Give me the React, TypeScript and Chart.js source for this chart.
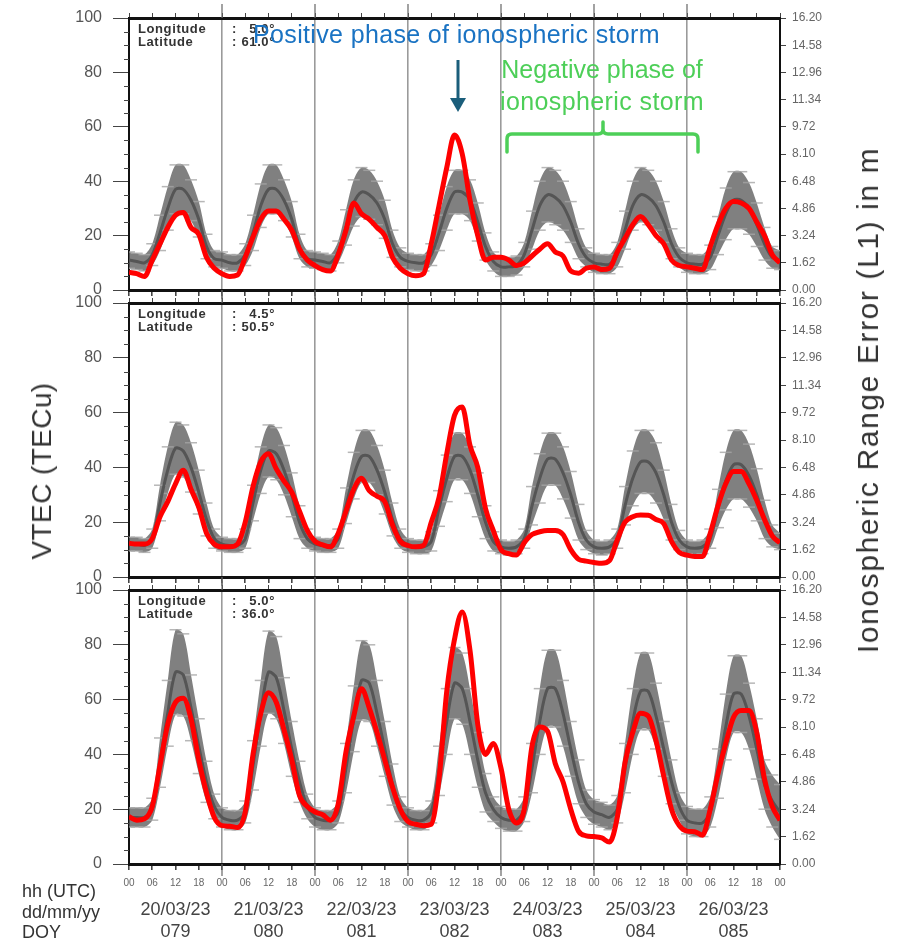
import React, { useEffect, useRef } from 'react';
import { Chart, registerables } from 'chart.js';

Chart.register(...registerables);

const FONT = "'Liberation Sans', Arial, Helvetica, sans-serif";
Chart.defaults.font.family = FONT;

// L1 ionospheric range error in metres per TECu (right-hand axis)
const RANGE_PER_TECU = 0.162;

// sampling times: hours since 20/03/23 00 UTC, every 2 h
const HOURS = Array.from({ length: 85 }, (_, i) => i * 2);

const DATES = ['20/03/23', '21/03/23', '22/03/23', '23/03/23', '24/03/23', '25/03/23', '26/03/23'];
const DOYS = ['079', '080', '081', '082', '083', '084', '085'];

// ---------- Panel 1: Longitude 5.0°, Latitude 61.0° ----------
const TOP_RED = [
  6.5, 6, 5, 11, 17, 23, 27.5, 28.5, 23, 20.5, 12, 8,
  6, 5, 5.5, 12, 19.5, 26, 29, 29, 26, 22, 15, 11,
  9, 7.5, 7, 13, 22, 32, 28, 26, 23, 20, 12, 8,
  6, 5.2, 6, 17, 31, 45, 57, 50, 33, 20, 11, 12,
  12, 11, 9, 10, 12.5, 15, 17, 14, 12.5, 7, 6.2, 8,
  8.5, 7.5, 8, 14, 19, 24, 27, 24, 20, 17, 11, 9,
  8.5, 8, 7.5, 16, 24, 30, 32.5, 32, 30, 25, 20, 13,
  10,
];
const TOP_MEDIAN = [
  11, 10.5, 10, 13, 21, 30, 37, 37, 33, 26, 16, 11.5,
  11, 10, 10, 13, 21, 31, 37, 37, 33, 26, 16, 11.5,
  11, 10.5, 10, 14, 23, 32, 36, 35, 32, 26, 17, 12,
  10.5, 10, 10, 13, 21, 30, 36, 36, 33, 25, 16, 10.5,
  8.5, 8.5, 9, 13, 22, 31, 35, 34, 31, 25, 17, 12,
  10, 9.5, 9.5, 13, 22, 31, 35, 34, 31, 25, 17, 12,
  10, 9.5, 9.5, 12, 20, 28, 33, 33, 30, 24, 17, 12,
  11,
];
const TOP_SIGMA = [
  3, 3, 3, 4, 6.5, 8, 9, 9, 7.5, 6.5, 4.5, 3,
  3, 3, 3, 4, 6.5, 8, 9, 9, 7.5, 6.5, 4.5, 3,
  3, 3, 3, 4, 6.5, 8.5, 9, 9, 8, 7, 5, 3.5,
  3, 3, 3, 4, 6.5, 8, 8, 8, 7.5, 7, 5, 3.5,
  3.5, 3.5, 3.5, 4.5, 7, 9, 10, 10, 9, 7.5, 5.5, 3.5,
  3.5, 3.5, 3.5, 4.5, 7, 9, 10, 10, 9, 7.5, 5.5, 3.5,
  3.5, 3.5, 3.5, 4.5, 7, 9.5, 10.5, 10.5, 9.5, 8, 6, 4,
  3.5,
];

// ---------- Panel 2: Longitude 4.5°, Latitude 50.5° ----------
const MID_RED = [
  12.3, 12, 12, 14, 22, 27.5, 34, 39, 32, 25.5, 16, 12,
  11, 11, 12, 20, 33, 42, 45, 39.5, 35, 31, 24, 17,
  13, 11.7, 11, 16, 24, 32, 36, 31.5, 29.5, 27.5, 19, 13,
  11.5, 11, 11.5, 20, 29, 45, 59, 62, 48, 40, 25, 17,
  10, 8.5, 8, 12.5, 15.5, 16.5, 17, 17, 15.5, 10, 6.5, 5.8,
  5.3, 5, 6, 13.5, 20, 22, 22.6, 22.5, 21, 19.5, 13, 9,
  8, 7.5, 7.5, 16, 26, 34, 38.5, 38.5, 34, 28, 21, 15,
  12.5,
];
const MID_MEDIAN = [
  12, 12, 11.5, 14, 27, 39, 47, 46, 40, 31, 21, 14,
  12, 11.5, 11.5, 14, 27, 39, 46, 45, 39, 30, 20, 14,
  12, 11.5, 11.5, 14, 26, 37, 44, 44, 39, 31, 21, 14,
  11.5, 11, 11, 13, 25, 36, 44, 44, 39, 30, 20, 13,
  11, 10.5, 11, 14, 26, 36, 43, 43, 38, 30, 20, 13.5,
  11, 10.5, 11, 14, 26, 36, 42, 42, 38, 30, 20, 13.5,
  11, 10.5, 11, 14, 25, 35, 41, 41, 37, 30, 21, 15,
  13,
];
const MID_SIGMA = [
  2.5, 2.5, 2.5, 3.5, 6.5, 8.5, 9.5, 9.5, 9, 8, 6, 3.5,
  2.5, 2.5, 2.5, 3.5, 6.5, 8.5, 9.5, 9.5, 9, 8, 6, 3.5,
  2.5, 2.5, 2.5, 3.5, 6.5, 8.5, 9.5, 9.5, 9, 8, 6, 3.5,
  2.5, 2.5, 2.5, 3.5, 6.5, 8.5, 8.5, 8.5, 8.5, 8, 6, 3.5,
  2.5, 2.5, 2.5, 3.5, 7, 9, 9.5, 9.5, 9.5, 8.5, 6.5, 3.5,
  2.5, 2.5, 2.5, 3.5, 7, 10, 11.5, 11.5, 11, 9, 6.5, 3.5,
  2.5, 2.5, 2.5, 3.5, 7, 10.5, 12.5, 12.5, 11.5, 9.5, 7, 4,
  3,
];

// ---------- Panel 3: Longitude 5.0°, Latitude 36.0° ----------
const BOT_RED = [
  17.3, 16, 16.5, 21, 36, 51, 59, 60.5, 53, 38, 26, 17,
  14, 13.8, 13.3, 19, 40, 55, 62.5, 59, 49, 38, 25, 21,
  19, 18, 16, 22, 41, 54, 64, 57, 48, 38, 28, 20,
  15.5, 14.5, 14, 14.5, 31, 63, 82, 92, 78, 51, 40, 44,
  35, 20, 15, 20, 43, 50, 48.5, 36.7, 30, 20, 12, 10.3,
  10, 9.5, 8, 17, 37, 48, 55, 54, 45, 32, 20, 14,
  12, 11.8, 10.5, 20, 33, 44, 53.5, 56, 56, 48, 31, 21,
  16,
];
const BOT_MEDIAN = [
  17, 17, 17, 20, 37, 55, 70, 69, 57, 43, 30, 21,
  17, 16, 16, 19, 36, 55, 70, 68, 56, 42, 30, 21,
  17, 16, 16, 19, 35, 53, 67, 66, 55, 42, 29, 20,
  17, 16, 16, 19, 34, 52, 66, 64, 52, 38, 26, 20,
  17, 16, 16, 20, 35, 52, 64, 64, 55, 42, 30, 22,
  19, 18, 17, 20, 35, 52, 63, 63, 54, 42, 30, 21,
  16, 15, 15, 19, 33, 50, 62, 62, 54, 42, 29, 23,
  19,
];
const BOT_SIGMA = [
  3.5, 3.5, 3.5, 4, 9, 12, 15.5, 15, 12, 10, 7.5, 4.5,
  3.5, 3.5, 3.5, 4, 9, 12, 15, 15, 12, 10, 7.5, 4.5,
  3.5, 3.5, 3.5, 4, 9, 12, 14.5, 14, 12, 10, 7.5, 4.5,
  3.5, 3.5, 3.5, 4, 9, 12, 13, 13, 12, 10, 7, 4.5,
  4, 4, 4, 4.5, 9, 12, 14, 14, 12, 10, 8, 5,
  4.5, 4.5, 4.5, 5, 9, 12, 14, 14, 12, 10, 8, 5,
  5, 5, 5, 5.5, 9, 12, 14, 14, 12, 11, 9, 9.5,
  10,
];

const PANEL_DATA = [
  { red: TOP_RED, median: TOP_MEDIAN, sigma: TOP_SIGMA, lon: '5.0°', lat: '61.0°' },
  { red: MID_RED, median: MID_MEDIAN, sigma: MID_SIGMA, lon: '4.5°', lat: '50.5°' },
  { red: BOT_RED, median: BOT_MEDIAN, sigma: BOT_SIGMA, lon: '5.0°', lat: '36.0°' },
];

// layout (pixel positions of each panel's plot frame)
const W = 905;
const H = 945;
const PANEL_LAYOUT = [
  { top: 18, bottom: 290, labels: false },
  { top: 303, bottom: 577, labels: false },
  { top: 590, bottom: 864, labels: true },
];

const pad2 = (v: number) => String(Math.round(v) % 24).padStart(2, '0');

function fixBox(w?: number, h?: number) {
  return (s: any) => {
    s.paddingTop = 0;
    s.paddingBottom = 0;
    s.paddingLeft = 0;
    s.paddingRight = 0;
    if (w !== undefined) s.width = w;
    if (h !== undefined) s.height = h;
  };
}

function buildChart(canvas: HTMLCanvasElement, idx: number) {
  const d = PANEL_DATA[idx];
  const lay = PANEL_LAYOUT[idx];
  const xTopH = 6;
  const xH = lay.labels ? 30 : 10;
  const x2H = lay.labels ? 50 : 0;
  const padTop = lay.top - xTopH;
  const padBottom = H - lay.bottom - xH - x2H;

  const pts = (arr: number[]) => HOURS.map((h, i) => ({ x: h, y: arr[i] }));
  const upper = HOURS.map((h, i) => ({ x: h, y: d.median[i] + d.sigma[i] }));
  const lower = HOURS.map((h, i) => ({ x: h, y: d.median[i] - d.sigma[i] }));

  const framePlugin = {
    id: 'frameExtras' + idx,
    afterDraw(chart: any) {
      const ctx = chart.ctx;
      const { left, top, bottom } = chart.chartArea;
      const y = chart.scales.y;
      const x = chart.scales.x;
      ctx.save();
      // minor ticks on the VTEC axis
      ctx.strokeStyle = '#444';
      ctx.lineWidth = 1;
      for (let v = y.min; v <= y.max; v += 5) {
        if (v % 20 === 0) continue;
        const py = Math.round(y.getPixelForValue(v)) + 0.5;
        ctx.beginPath();
        ctx.moveTo(left - 5, py);
        ctx.lineTo(left, py);
        ctx.stroke();
      }
      // day boundary marks extending beyond the frame
      ctx.strokeStyle = '#666';
      ctx.lineWidth = 1.2;
      for (let i = 1; i < DATES.length; i++) {
        const px = x.getPixelForValue(i * 24);
        ctx.beginPath();
        ctx.moveTo(px, top - (idx === 0 ? 14 : 9));
        ctx.lineTo(px, top);
        ctx.moveTo(px, bottom);
        ctx.lineTo(px, bottom + (lay.labels ? 12 : 9));
        ctx.stroke();
      }
      // station coordinates
      ctx.fillStyle = '#333';
      ctx.font = 'bold 13px ' + FONT;
      (ctx as any).letterSpacing = '0.6px';
      ctx.textBaseline = 'middle';
      ctx.textAlign = 'left';
      ctx.fillText('Longitude', left + 9, top + 11);
      ctx.fillText('Latitude', left + 9, top + 24);
      ctx.fillText(':', left + 103, top + 11);
      ctx.fillText(':', left + 103, top + 24);
      ctx.textAlign = 'right';
      ctx.fillText(d.lon, left + 146, top + 11);
      ctx.fillText(d.lat, left + 146, top + 24);
      ctx.restore();
    },
  };

  const scales: any = {
    x: {
      type: 'linear',
      position: 'bottom',
      min: 0,
      max: 168,
      weight: 0,
      ticks: {
        stepSize: 6,
        autoSkip: false,
        maxRotation: 0,
        display: lay.labels,
        color: '#666',
        font: { size: 10, family: FONT },
        padding: 7,
        callback: (v: number) => pad2(v),
      },
      grid: {
        drawOnChartArea: true,
        drawTicks: true,
        tickLength: 6,
        tickColor: '#444',
        color: (c: any) => (c.tick && c.tick.value % 24 === 0 ? '#9a9a9a' : 'rgba(0,0,0,0)'),
        lineWidth: 1.6,
      },
      border: { display: true, color: '#111', width: 3 },
      afterFit: fixBox(undefined, xH),
    },
    xTop: {
      type: 'linear',
      position: 'top',
      min: 0,
      max: 168,
      ticks: { stepSize: 6, display: false },
      grid: { drawOnChartArea: false, drawTicks: true, tickLength: 5, tickColor: '#444' },
      border: { display: true, color: '#111', width: 3 },
      afterFit: fixBox(undefined, xTopH),
    },
    y: {
      type: 'linear',
      position: 'left',
      min: 0,
      max: 100,
      ticks: { stepSize: 20, color: '#555', font: { size: 16, family: FONT }, padding: 11 },
      grid: { drawOnChartArea: false, drawTicks: true, tickLength: 16, tickColor: '#444' },
      border: { display: true, color: '#111', width: 2 },
      afterFit: fixBox(129, undefined),
    },
    yR: {
      type: 'linear',
      position: 'right',
      min: 0,
      max: 100,
      ticks: {
        stepSize: 10,
        color: '#666',
        font: { size: 12, family: FONT },
        padding: 6,
        callback: (v: number) => (v * RANGE_PER_TECU).toFixed(2),
      },
      grid: { drawOnChartArea: false, drawTicks: true, tickLength: 6, tickColor: '#444' },
      border: { display: true, color: '#111', width: 2 },
      afterFit: fixBox(W - 780, undefined),
    },
  };
  if (lay.labels) {
    scales.x2 = {
      type: 'linear',
      position: 'bottom',
      min: 0,
      max: 168,
      weight: 1,
      afterBuildTicks: (s: any) => {
        s.ticks = DATES.map((_, i) => ({ value: i * 24 + 12 }));
      },
      ticks: {
        autoSkip: false,
        maxRotation: 0,
        color: '#444',
        font: { size: 18, family: FONT, lineHeight: 1.22 },
        padding: 5,
        callback: (_v: number, i: number) => [DATES[i], DOYS[i]],
      },
      grid: { display: false, drawTicks: false },
      border: { display: false },
      afterFit: fixBox(undefined, x2H),
    };
  }

  const capColor = 'rgba(165,165,165,0.8)';
  return new Chart(canvas, {
    type: 'line',
    data: {
      datasets: [
        {
          label: 'median + sigma',
          data: upper,
          borderWidth: 0,
          borderColor: 'rgba(0,0,0,0)',
          backgroundColor: 'rgba(96,96,96,0.8)',
          fill: '+1',
          pointStyle: 'line',
          pointRadius: 6,
          pointBorderColor: capColor,
          pointBorderWidth: 1.5,
          tension: 0.3,
          order: 3,
        },
        {
          label: 'median - sigma',
          data: lower,
          borderWidth: 0,
          borderColor: 'rgba(0,0,0,0)',
          fill: false,
          pointStyle: 'line',
          pointRadius: 6,
          pointBorderColor: capColor,
          pointBorderWidth: 1.5,
          tension: 0.3,
          order: 2,
        },
        {
          label: 'median',
          data: pts(d.median),
          borderColor: '#555555',
          borderWidth: 3,
          pointRadius: 0,
          fill: false,
          tension: 0.3,
          order: 1,
        },
        {
          label: 'VTEC',
          data: pts(d.red),
          borderColor: '#ff0000',
          borderWidth: 5,
          pointRadius: 0,
          fill: false,
          cubicInterpolationMode: 'monotone',
          order: 0,
        },
      ] as any,
    },
    options: {
      responsive: false,
      animation: false,
      events: [],
      layout: { padding: { top: padTop, bottom: padBottom, left: 0, right: 0 } },
      plugins: { legend: { display: false }, tooltip: { enabled: false } },
      scales,
    } as any,
    plugins: [framePlugin],
  });
}

const abs = (s: React.CSSProperties): React.CSSProperties => ({ position: 'absolute', ...s });

export default function App() {
  const r1 = useRef<HTMLCanvasElement>(null);
  const r2 = useRef<HTMLCanvasElement>(null);
  const r3 = useRef<HTMLCanvasElement>(null);

  useEffect(() => {
    const refs = [r1, r2, r3];
    const charts = refs.map((r, i) => buildChart(r.current as HTMLCanvasElement, i));
    return () => charts.forEach((c) => c.destroy());
  }, []);

  const canvasStyle: React.CSSProperties = { position: 'absolute', left: 0, top: 0, width: W, height: H };
  const green = '#4dcf58';

  return (
    <div style={{ position: 'absolute', left: 0, top: 0, width: W, height: H, background: '#fff', fontFamily: FONT, overflow: 'hidden' }}>
      <canvas ref={r1} width={W} height={H} style={canvasStyle} />
      <canvas ref={r2} width={W} height={H} style={canvasStyle} />
      <canvas ref={r3} width={W} height={H} style={canvasStyle} />

      {/* axis titles */}
      <div style={abs({ left: 42, top: 471, transform: 'translate(-50%,-50%) rotate(-90deg)', fontSize: 28, letterSpacing: '0.4px', color: '#333', whiteSpace: 'nowrap', lineHeight: '30px' })}>
        VTEC (TECu)
      </div>
      <div style={abs({ left: 868, top: 400, transform: 'translate(-50%,-50%) rotate(-90deg)', fontSize: 30, letterSpacing: '1.6px', color: '#333', whiteSpace: 'nowrap', lineHeight: '32px' })}>
        Ionospheric Range Error (L1) in m
      </div>

      {/* x-axis row captions */}
      <div style={abs({ left: 22, top: 882, fontSize: 18, lineHeight: '18px', color: '#333', whiteSpace: 'nowrap' })}>hh (UTC)</div>
      <div style={abs({ left: 22, top: 903, fontSize: 18, lineHeight: '18px', color: '#333', whiteSpace: 'nowrap' })}>dd/mm/yy</div>
      <div style={abs({ left: 22, top: 923, fontSize: 18, lineHeight: '18px', color: '#333', whiteSpace: 'nowrap' })}>DOY</div>

      {/* storm annotations */}
      <div style={abs({ left: 253, top: 22, fontSize: 25, letterSpacing: '0.35px', lineHeight: '25px', color: '#1a73c3', whiteSpace: 'nowrap' })}>
        Positive phase of ionospheric storm
      </div>
      <div style={abs({ left: 602, top: 57, transform: 'translateX(-50%)', fontSize: 25, lineHeight: '25px', color: green, whiteSpace: 'nowrap' })}>
        Negative phase of
      </div>
      <div style={abs({ left: 602, top: 89, transform: 'translateX(-50%)', fontSize: 25, letterSpacing: '0.4px', lineHeight: '25px', color: green, whiteSpace: 'nowrap' })}>
        ionospheric storm
      </div>
      <svg width={W} height={H} style={abs({ left: 0, top: 0, pointerEvents: 'none' })}>
        <line x1={458} y1={60} x2={458} y2={100} stroke="#1b5e7b" strokeWidth={3} />
        <polygon points="450,98 466,98 458,112" fill="#1b5e7b" />
        <path
          d="M507,152 L507,139 Q507,134 512,134 L598,134 Q603,134 603,129 L603,122 M603,129 Q603,134 608,134 L693,134 Q698,134 698,139 L698,152"
          stroke={green}
          strokeWidth={3.5}
          fill="none"
          strokeLinecap="round"
          strokeLinejoin="round"
        />
      </svg>
    </div>
  );
}
